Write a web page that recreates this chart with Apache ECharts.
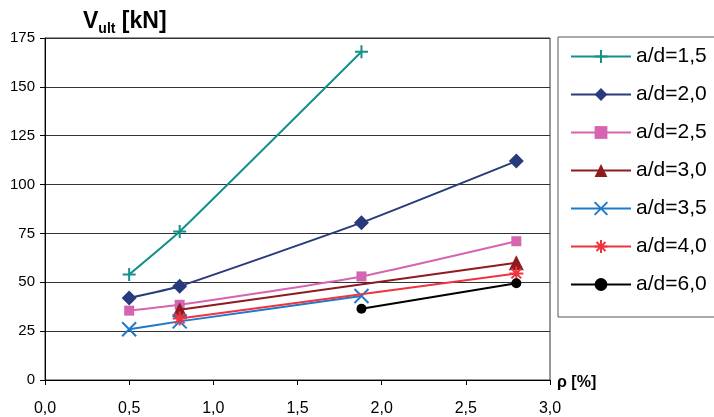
<!DOCTYPE html>
<html><head><meta charset="utf-8">
<script src="https://cdn.jsdelivr.net/npm/echarts@6/dist/echarts.min.js"></script>
<style>html,body{margin:0;padding:0;background:#fff}#c{width:714px;height:417px}</style>
</head><body><div id="c"></div>
<script>
const seriesNames = ['a/d=1,5','a/d=2,0','a/d=2,5','a/d=3,0','a/d=3,5','a/d=4,0','a/d=6,0'];
const ad15 = [[0.5,54],[0.8,76],[1.88,168]];
const ad20 = [[0.5,42],[0.8,48],[1.88,80.5],[2.8,112]];
const ad25 = [[0.5,35.5],[0.8,38.5],[1.88,53],[2.8,71]];
const ad30 = [[0.8,36],[2.8,60]];
const ad35 = [[0.5,26],[0.8,30],[1.88,43]];
const ad40 = [[0.8,31.5],[2.8,54.5]];
const ad60 = [[1.88,36.5],[2.8,49.5]];
const xTicks = [0,0.5,1,1.5,2,2.5,3];
const yTicks = [0,25,50,75,100,125,150,175];

const colors = ['#13908a','#283b7c','#d565b0','#8e1b20','#1f7ac9','#f0343f','#000000'];
const symbols = [
  'path://M5,0L5,10M0,5L10,5',
  'diamond',
  'rect',
  'triangle',
  'path://M0,0L10,10M10,0L0,10',
  'path://M5,0L5,10M0,5L10,5M1.5,1.5L8.5,8.5M8.5,1.5L1.5,8.5',
  'circle'
];
const sizes = [13,15,10,15,14,14,10];
const datas = [ad15,ad20,ad25,ad30,ad35,ad40,ad60];
const strokeOnly = [true,false,false,false,true,true,false];

const series = datas.map((d,i)=>({
  name: seriesNames[i],
  type: 'line',
  data: d,
  smooth: 0.15,
  symbol: symbols[i],
  symbolSize: sizes[i],
  lineStyle: {color: colors[i], width: 2},
  itemStyle: strokeOnly[i] ? {color: colors[i], borderColor: colors[i], borderWidth: 2} : {color: colors[i], borderWidth: 0},
  z: 2 + i
}));

const chart = echarts.init(document.getElementById('c'));
chart.setOption({
  animation: false,
  textStyle: {fontFamily: 'Liberation Sans, Arial, sans-serif'},
  grid: {left: 45, right: 164, top: 38, bottom: 35, show: true, borderColor: '#333', borderWidth: 1},
  title: {
    text: '{v|V}{s|ult}{v| [kN]}',
    left: 78, top: 3,
    textStyle: {rich: {
      v: {fontSize: 23, fontWeight: 'bold', color: '#000', fontFamily: 'Liberation Sans'},
      s: {fontSize: 14, fontWeight: 'bold', color: '#000', verticalAlign: 'bottom', padding: [14,0,0,0], fontFamily: 'Liberation Sans'}
    }}
  },
  graphic: [{type: 'text', left: 557, top: 375, style: {text: 'ρ [%]', font: 'bold 16px Liberation Sans', fill: '#000'}}],
  legend: {
    left: 558, top: 37, orient: 'vertical',
    padding: [9, 20, 22, 12],
    itemWidth: 60, itemHeight: 16, itemGap: 17,
    borderColor: '#555', borderWidth: 1,
    textStyle: {fontSize: 21, color: '#000', fontFamily: 'Liberation Sans'},
    data: seriesNames
  },
  xAxis: {
    type: 'value', min: 0, max: 3, interval: 0.5,
    axisLine: {lineStyle: {color: '#000', width: 1}},
    axisTick: {show: true, length: 5, lineStyle: {color: '#000'}},
    axisLabel: {margin: 21, fontSize: 16, color: '#000', formatter: v => v.toFixed(1).replace('.', ',')},
    splitLine: {show: false}
  },
  yAxis: {
    type: 'value', min: 0, max: 175, interval: 25,
    axisLine: {show: true, lineStyle: {color: '#000', width: 1}},
    axisTick: {show: true, length: 5, lineStyle: {color: '#000'}},
    axisLabel: {margin: 10, fontSize: 15, color: '#000'},
    splitLine: {show: true, lineStyle: {color: '#333', width: 1}}
  },
  series: series
});
</script></body></html>
